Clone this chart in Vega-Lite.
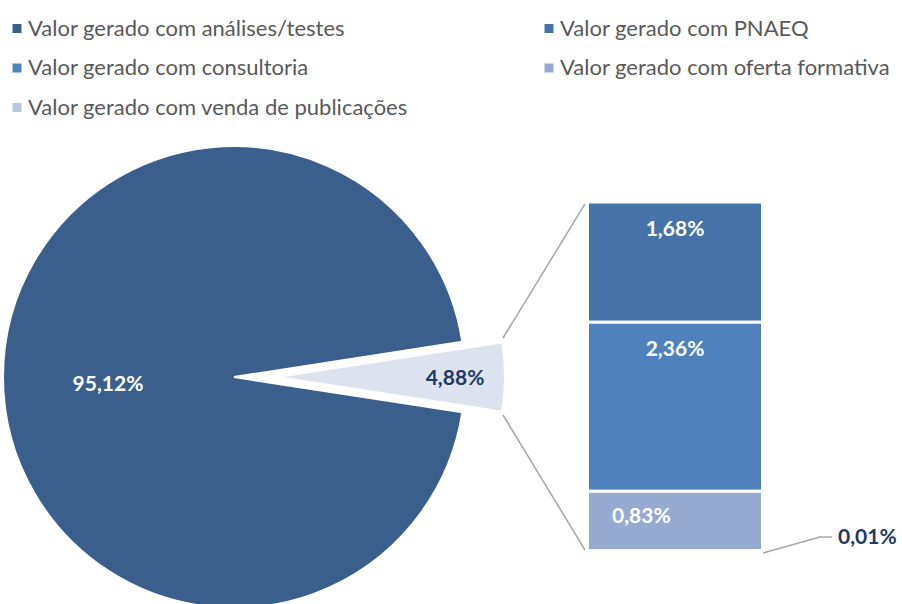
{
  "$schema": "https://vega.github.io/schema/vega-lite/v6.json",
  "width": 902,
  "height": 604,
  "padding": 0,
  "autosize": {"type": "none"},
  "background": "white",
  "datasets": {
    "pie": [
      {"categoria": "Valor gerado com análises/testes", "pct": 95.12, "rotulo": "95,12%"},
      {"categoria": "Outros", "pct": 4.88, "rotulo": "4,88%"}
    ],
    "barras": [
      {"categoria": "Valor gerado com PNAEQ", "pct": 1.68, "rotulo": "1,68%"},
      {"categoria": "Valor gerado com consultoria", "pct": 2.36, "rotulo": "2,36%"},
      {"categoria": "Valor gerado com oferta formativa", "pct": 0.83, "rotulo": "0,83%"},
      {"categoria": "Valor gerado com venda de publicações", "pct": 0.01, "rotulo": "0,01%"}
    ]
  },
  "config": {
    "view": {"stroke": null},
    "axis": {"disable": true},
    "text": {"font": "Lato", "fontWeight": "bold", "fontSize": 21, "baseline": "middle"},
    "legend": {
      "orient": "none", "legendX": 6, "legendY": 17.5, "columns": 2, "columnPadding": 129, "rowPadding": 17.5,
      "symbolType": "square", "symbolSize": 81, "symbolStrokeWidth": 0, "labelFont": "Lato", "labelFontSize": 22,
      "labelColor": "#595959", "labelOffset": 0, "labelLimit": 600
    }
  },
  "layer": [
    {
      "data": {"name": "pie"},
      "transform": [
        {"stack": "pct", "groupby": [], "sort": [{"field": "pct", "order": "ascending"}], "as": ["t0", "t1"]},
        {"filter": "datum.categoria === 'Valor gerado com análises/testes'"}
      ],
      "mark": {"type": "arc", "outerRadius": 231, "stroke": "white", "strokeWidth": 2},
      "encoding": {
        "x": {"datum": 234, "type": "quantitative", "scale": {"domain": [0, 902], "nice": false, "zero": false}, "axis": null},
        "y": {"datum": 2.436, "type": "quantitative", "scale": {"domain": [-0.733, 7.7], "nice": false, "zero": false}, "axis": null},
        "theta": {"field": "t0", "type": "quantitative", "scale": {"domain": [0, 100], "range": [1.417486, 7.700671]}},
        "theta2": {"field": "t1"},
        "color": {
          "field": "categoria", "type": "nominal",
          "scale": {
            "domain": ["Valor gerado com análises/testes", "Valor gerado com consultoria", "Valor gerado com venda de publicações", "Valor gerado com PNAEQ", "Valor gerado com oferta formativa"],
            "range": ["#3B5F8C", "#4F81BD", "#B9C7E1", "#4572A7", "#95A9D1"]
          },
          "legend": {"title": null}
        }
      }
    },
    {
      "data": {"name": "pie"},
      "transform": [
        {"stack": "pct", "groupby": [], "sort": [{"field": "pct", "order": "ascending"}], "as": ["t0", "t1"]},
        {"filter": "datum.categoria === 'Outros'"}
      ],
      "mark": {"type": "arc", "outerRadius": 220, "fill": "#DCE2EE"},
      "encoding": {
        "x": {"datum": 284, "type": "quantitative", "scale": {"domain": [0, 902], "nice": false, "zero": false}, "axis": null},
        "y": {"datum": 2.436, "type": "quantitative", "scale": {"domain": [-0.733, 7.7], "nice": false, "zero": false}, "axis": null},
        "theta": {"field": "t0", "type": "quantitative", "scale": {"domain": [0, 100], "range": [1.417486, 7.700671]}},
        "theta2": {"field": "t1"}
      }
    },
    {
      "data": {"name": "barras"},
      "transform": [
        {"stack": "pct", "groupby": [], "sort": [{"field": "categoria", "order": "descending"}], "as": ["y0", "y1"]}
      ],
      "mark": {"type": "rect", "stroke": "white", "strokeWidth": 3},
      "encoding": {
        "x": {"datum": 587.5, "type": "quantitative", "scale": {"domain": [0, 902], "nice": false, "zero": false}, "axis": null},
        "x2": {"datum": 762.5},
        "y": {"field": "y0", "type": "quantitative", "scale": {"domain": [-0.733, 7.7], "nice": false, "zero": false}, "axis": null},
        "y2": {"field": "y1"},
        "color": {
          "field": "categoria", "type": "nominal",
          "scale": {
            "domain": ["Valor gerado com análises/testes", "Valor gerado com consultoria", "Valor gerado com venda de publicações", "Valor gerado com PNAEQ", "Valor gerado com oferta formativa"],
            "range": ["#3B5F8C", "#4F81BD", "#B9C7E1", "#4572A7", "#95A9D1"]
          },
          "legend": {"title": null}
        }
      }
    },
    {
      "data": {"name": "barras"},
      "transform": [
        {"stack": "pct", "groupby": [], "sort": [{"field": "categoria", "order": "descending"}], "as": ["y0", "y1"]},
        {"filter": {"field": "categoria", "oneOf": ["Valor gerado com PNAEQ", "Valor gerado com consultoria"]}}
      ],
      "mark": {"type": "text", "color": "white", "align": "center", "dy": 28},
      "encoding": {
        "x": {"datum": 675, "type": "quantitative", "scale": {"domain": [0, 902], "nice": false, "zero": false}, "axis": null},
        "y": {"field": "y1", "type": "quantitative", "scale": {"domain": [-0.733, 7.7], "nice": false, "zero": false}, "axis": null},
        "text": {"field": "rotulo"}
      }
    },
    {
      "data": {"name": "barras"},
      "transform": [
        {"stack": "pct", "groupby": [], "sort": [{"field": "categoria", "order": "descending"}], "as": ["y0", "y1"]},
        {"filter": "datum.categoria === 'Valor gerado com oferta formativa'"}
      ],
      "mark": {"type": "text", "color": "white", "align": "left", "dy": 26},
      "encoding": {
        "x": {"datum": 612, "type": "quantitative", "scale": {"domain": [0, 902], "nice": false, "zero": false}, "axis": null},
        "y": {"field": "y1", "type": "quantitative", "scale": {"domain": [-0.733, 7.7], "nice": false, "zero": false}, "axis": null},
        "text": {"field": "rotulo"}
      }
    },
    {
      "data": {"name": "barras"},
      "transform": [
        {"filter": "datum.categoria === 'Valor gerado com venda de publicações'"}
      ],
      "mark": {"type": "text", "color": "#1F3864", "align": "left"},
      "encoding": {
        "x": {"datum": 838, "type": "quantitative", "scale": {"domain": [0, 902], "nice": false, "zero": false}, "axis": null},
        "y": {"datum": 0.188, "type": "quantitative", "scale": {"domain": [-0.733, 7.7], "nice": false, "zero": false}, "axis": null},
        "text": {"field": "rotulo"}
      }
    },
    {
      "data": {"name": "barras"},
      "transform": [
        {"filter": "datum.categoria === 'Valor gerado com venda de publicações'"}
      ],
      "mark": {"type": "rule", "color": "#A6A6A6", "strokeWidth": 1.5},
      "encoding": {
        "x": {"datum": 763, "type": "quantitative", "scale": {"domain": [0, 902], "nice": false, "zero": false}, "axis": null},
        "y": {"datum": -0.021, "type": "quantitative", "scale": {"domain": [-0.733, 7.7], "nice": false, "zero": false}, "axis": null},
        "x2": {"datum": 820},
        "y2": {"datum": 0.202}
      }
    },
    {
      "data": {"name": "barras"},
      "transform": [
        {"filter": "datum.categoria === 'Valor gerado com venda de publicações'"}
      ],
      "mark": {"type": "rule", "color": "#A6A6A6", "strokeWidth": 1.5},
      "encoding": {
        "x": {"datum": 819.5, "type": "quantitative", "scale": {"domain": [0, 902], "nice": false, "zero": false}, "axis": null},
        "y": {"datum": 0.202, "type": "quantitative", "scale": {"domain": [-0.733, 7.7], "nice": false, "zero": false}, "axis": null},
        "x2": {"datum": 832},
        "y2": {"datum": 0.202}
      }
    },
    {
      "data": {"name": "pie"},
      "transform": [{"filter": "datum.categoria === 'Outros'"}],
      "mark": {"type": "rule", "color": "#A6A6A6", "strokeWidth": 1.5},
      "encoding": {
        "x": {"datum": 503, "type": "quantitative", "scale": {"domain": [0, 902], "nice": false, "zero": false}, "axis": null},
        "y": {"datum": 2.981, "type": "quantitative", "scale": {"domain": [-0.733, 7.7], "nice": false, "zero": false}, "axis": null},
        "x2": {"datum": 585},
        "y2": {"datum": 4.852}
      }
    },
    {
      "data": {"name": "pie"},
      "transform": [{"filter": "datum.categoria === 'Outros'"}],
      "mark": {"type": "rule", "color": "#A6A6A6", "strokeWidth": 1.5},
      "encoding": {
        "x": {"datum": 503, "type": "quantitative", "scale": {"domain": [0, 902], "nice": false, "zero": false}, "axis": null},
        "y": {"datum": 1.906, "type": "quantitative", "scale": {"domain": [-0.733, 7.7], "nice": false, "zero": false}, "axis": null},
        "x2": {"datum": 585},
        "y2": {"datum": 0.021}
      }
    },
    {
      "data": {"name": "pie"},
      "transform": [{"filter": "datum.categoria === 'Valor gerado com análises/testes'"}],
      "mark": {"type": "text", "color": "white", "align": "center"},
      "encoding": {
        "x": {"datum": 108, "type": "quantitative", "scale": {"domain": [0, 902], "nice": false, "zero": false}, "axis": null},
        "y": {"datum": 2.324, "type": "quantitative", "scale": {"domain": [-0.733, 7.7], "nice": false, "zero": false}, "axis": null},
        "text": {"field": "rotulo"}
      }
    },
    {
      "data": {"name": "pie"},
      "transform": [{"filter": "datum.categoria === 'Outros'"}],
      "mark": {"type": "text", "color": "#1F3864", "align": "center"},
      "encoding": {
        "x": {"datum": 455, "type": "quantitative", "scale": {"domain": [0, 902], "nice": false, "zero": false}, "axis": null},
        "y": {"datum": 2.408, "type": "quantitative", "scale": {"domain": [-0.733, 7.7], "nice": false, "zero": false}, "axis": null},
        "text": {"field": "rotulo"}
      }
    }
  ]
}
